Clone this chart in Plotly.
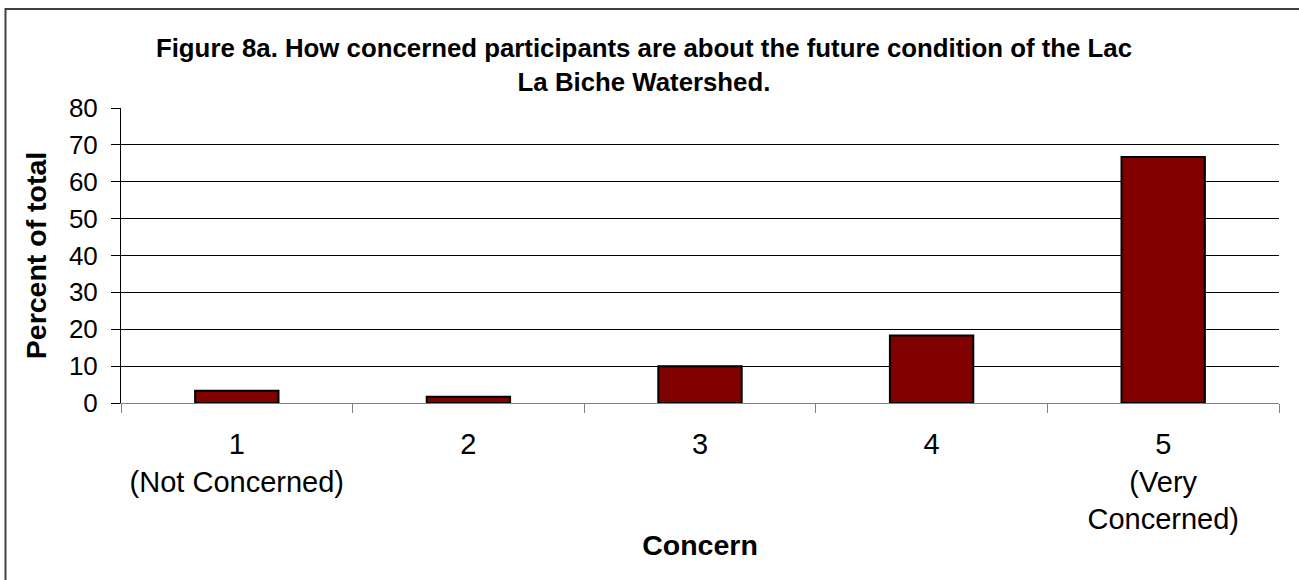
import plotly.graph_objects as go

categories = ["1<br>(Not Concerned)", "2", "3", "4", "5<br>(Very<br>Concerned)"]
percent_of_total = [3.3, 1.7, 10.0, 18.3, 66.7]
y_ticks = [0, 10, 20, 30, 40, 50, 60, 70, 80]

title_text = ("Figure 8a. How concerned participants are about the future condition of the Lac"
              "<br>La Biche Watershed.")

FONT = "Arial, Liberation Sans, sans-serif"

fig = go.Figure()
fig.add_trace(go.Bar(
    x=categories,
    y=percent_of_total,
    marker=dict(color="#800000", line=dict(color="#000000", width=2)),
    width=0.36,
    hoverinfo="x+y",
))

fig.update_layout(
    width=1299, height=580,
    margin=dict(l=121, r=20, t=108, b=177, autoexpand=False),
    paper_bgcolor="white", plot_bgcolor="white",
    showlegend=False,
    font=dict(family=FONT, color="black", size=26),
    title=dict(text="<b>" + title_text + "</b>", x=644 / 1299, xref="container", xanchor="center",
               y=1 - 57 / 580, yref="container", yanchor="top",
               font=dict(family=FONT, size=25.8, color="black")),
    xaxis=dict(
        type="category", tickson="boundaries", ticks="outside", ticklen=9,
        tickcolor="#808080", tickwidth=1,
        showline=True, linecolor="#808080", linewidth=1,
        showgrid=False, ticklabelstandoff=15,
        tickfont=dict(family=FONT, size=29, color="black"),
        title=dict(text="<b>Concern</b>", standoff=0,
                   font=dict(family=FONT, size=28.5, color="black")),
        automargin=False,
    ),
    yaxis=dict(
        range=[0, 80], tickvals=y_ticks, ticks="outside", ticklen=9,
        tickcolor="#000000", tickwidth=1,
        showline=True, linecolor="#000000", linewidth=1,
        showgrid=True, gridcolor="#000000", gridwidth=1,
        zeroline=False, ticklabelstandoff=8,
        tickfont=dict(family=FONT, size=26, color="black"),
        title=dict(text="<b>Percent of total</b>", standoff=13,
                   font=dict(family=FONT, size=28.5, color="black")),
        automargin=False,
    ),
    shapes=[dict(type="rect", xref="paper", yref="paper",
                 x0=(5.5 - 121) / 1158, x1=1.2, y0=-1.0, y1=(403 - 9) / 295,
                 line=dict(color="#404040", width=2), fillcolor="rgba(0,0,0,0)", layer="below")],
)

fig.write_html("out.html", config={"displayModeBar": False},
               post_script="document.body.style.margin='0';")
